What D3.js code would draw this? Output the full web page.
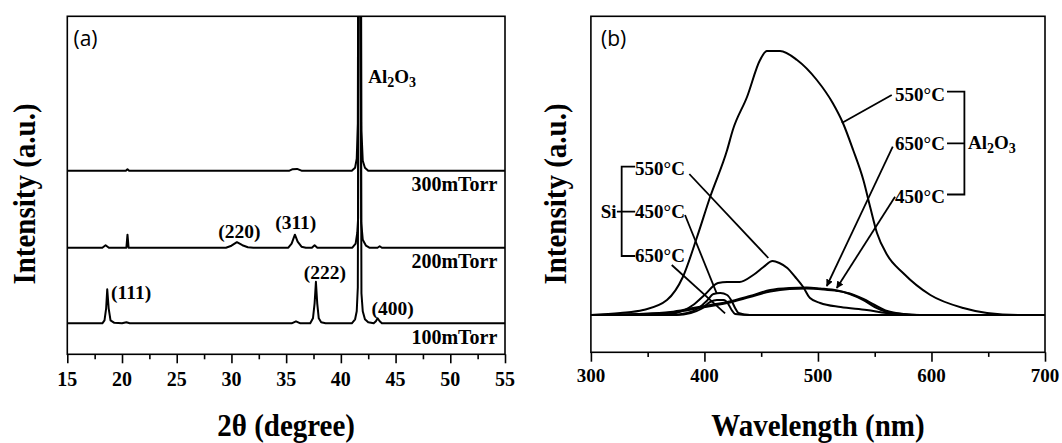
<!DOCTYPE html>
<html>
<head>
<meta charset="utf-8">
<script src="https://cdn.jsdelivr.net/npm/d3@7"></script>
<style>
  body { margin: 0; background: #fff; }
  svg { display: block; }
</style>
</head>
<body>
<svg id="chart" width="1062" height="443"></svg>
<script>
// ---- panel (a): XRD patterns, intensity above each trace's baseline ----
const xrdTicks = [15, 20, 25, 30, 35, 40, 45, 50, 55];
const xrdMinorTicks = [17.5, 22.5, 27.5, 32.5, 37.5, 42.5, 47.5, 52.5];
const xrdNames = ["100mTorr", "200mTorr", "300mTorr"];
const xrdOffsets = [31, 106.6, 183.6];

const xrd100 = [[15,0],[18.2,0],[18.4,3],[18.55,15],[18.65,34],[18.78,15],[18.95,3],[19.3,0.5],[20.0,0],[20.4,1],[20.7,0],
  [35.5,0],[35.9,2],[36.3,0],[37.2,0],[37.45,5],[37.6,20],[37.72,41.6],[37.84,20],[37.98,5],[38.2,1],[38.6,0],
  [41.0,0],[41.3,4],[41.45,12],[41.55,36],[41.63,400],[41.8,400],[41.88,30],[42.0,12],[42.2,4],[42.5,1],[43.0,0],
  [43.2,2],[43.36,5],[43.55,2],[43.75,0],[55,0]];
const xrd200 = [[15,0],[18.2,0],[18.5,2.5],[18.8,0],[20.4,0],[20.5,13],[20.6,0],[29.5,0],[30.0,2],[30.5,5.5],[31.0,2.5],
  [31.5,0.5],[32,0],[35.2,0],[35.5,4],[35.8,13],[36.05,6],[36.4,1],[36.8,0],[37.35,0],[37.6,2.5],[37.85,0],
  [41.05,0],[41.35,4],[41.5,15],[41.58,30],[41.63,400],[41.8,400],[41.86,25],[42.0,8],[42.3,2],[42.6,0],
  [43.35,0],[43.55,1.5],[43.75,0],[55,0]];
const xrd300 = [[15,0],[20.35,0],[20.5,1.5],[20.65,0],[35.3,0],[35.6,1.5],[36.0,1.8],[36.4,0],
  [41.0,0],[41.3,3],[41.45,12],[41.55,47],[41.62,400],[41.8,400],[41.88,40],[42.0,10],[42.2,3],[42.5,0],[55,0]];

const xrdPeakNames = ["(111)", "(222)", "(400)", "(220)", "(311)"];
const xrdPeakAt = [[19.0, 62.5], [36.6, 82.3], [42.8, 46], [28.8, 123.5], [34.0, 132.3]];

// ---- panel (b): PL spectra, intensity above the common baseline ----
const plTicks = [300, 400, 500, 600, 700];
const plMinorTicks = [350, 450, 550, 650];

const alO550 = [[300,0],[326,2],[346,5],[367,15],[381,38],[393.5,78],[405,118],[420,165],[425,185],[437.5,218],
  [449,255],[455,264],[466.6,264],[481.6,255],[499,235],[513,212],[522,192],[531,165],[540,135],[546,108],
  [552,82],[561,60],[575,42],[599,20],[628,7],[649,2],[678,0],[700,0]];
const alO650 = [[300,0],[340,1],[370,3],[390,7],[405,10],[420,13],[440,19],[458,25],[475,27],[490,27.5],
  [502,26.5],[517,24.5],[528,21],[540,15],[550,8],[561,3],[575,1],[590,0],[700,0]];
const alO450 = [[300,0],[350,1],[375,3],[395,7],[420,12],[440,18],[458,23.5],[475,26],[490,26.5],[505,25.5],
  [517,24],[528,21.5],[540,16],[550,10],[561,4],[575,1],[590,0],[700,0]];
const si550 = [[300,0],[360,0],[375,2],[390,10],[400,20],[412,32],[420,33],[431,33],[443,40],[452,48],[460,54],
  [466,52],[473,47],[480,38],[487,28],[493,17],[502,12],[520,8],[543,5],[560,2],[575,0],[700,0]];
const si450 = [[300,0],[370,0],[385,2],[395,7],[402,14],[408,21],[414,22],[420,20],[424,14],[427,7],[430,2],[440,0],[700,0]];
const si650 = [[300,0],[375,0],[388,2],[397,6],[405,13],[411,15],[417,15],[421,11],[424,5],[427,1],[440,0],[700,0]];

const alLabels = ["550°C", "650°C", "450°C"];
const alLabelAt = [[567.9, 221], [567.9, 171.7], [567.9, 119]];
const alLeaders = [[[565, 220], [521, 192]], [[565.9, 168.3], [507.8, 29]], [[567.9, 118.3], [516.6, 27]]];
const siLabels = ["550°C", "450°C", "650°C"];
const siLabelAt = [[338.9, 146.7], [338.9, 103.3], [338.9, 60]];
const siLeaders = [[[386.7, 141], [456.3, 57]], [[382.9, 100], [410.8, 21.7]], [[371.2, 50], [418.2, 1.7]]];

const SERIF = "'Liberation Serif', serif";
const SANS = "'Open Sans', sans-serif";

const svg = d3.select("#chart");
svg.append("rect").attr("width", 1062).attr("height", 443).attr("fill", "#fff");

svg.append("defs").append("marker")
  .attr("id", "arrow")
  .attr("viewBox", "0 0 10 10")
  .attr("refX", 9).attr("refY", 5)
  .attr("markerWidth", 4).attr("markerHeight", 4)
  .attr("orient", "auto")
  .append("path").attr("d", "M0,0 L10,5 L0,10 z").attr("fill", "#000");

function text(x, y, str, size, anchor, family) {
  return svg.append("text")
    .attr("x", x).attr("y", y)
    .attr("dy", "0.35em")
    .attr("text-anchor", anchor || "start")
    .attr("fill", "#000")
    .attr("font-family", family || SERIF)
    .attr("font-weight", family ? "normal" : "bold")
    .attr("font-size", size)
    .text(str);
}

function frame(x, y, id) {
  const [x0, x1] = x.range(), [y0, y1] = y.range();
  svg.append("clipPath").attr("id", id)
    .append("rect").attr("x", x0).attr("y", y1).attr("width", x1 - x0).attr("height", y0 - y1);
  svg.append("rect")
    .attr("x", x0).attr("y", y1).attr("width", x1 - x0).attr("height", y0 - y1)
    .attr("fill", "none").attr("stroke", "#000").attr("stroke-width", 1.6);
}

function bottomAxis(x, y, major, minor, majorLen, minorLen, labelY, fontSize) {
  const y0 = y.range()[0];
  [[minor, minorLen], [major, majorLen]].forEach(([vals, len]) => {
    svg.append("g")
      .attr("transform", `translate(0,${y0})`)
      .call(d3.axisBottom(x).tickValues(vals).tickSize(len).tickFormat(""))
      .call(g => g.select(".domain").remove())
      .call(g => g.selectAll("line").attr("stroke", "#000").attr("stroke-width", 1.6));
  });
  // tick labels drawn as plain texts so the bold serif face sticks
  major.forEach(v => text(x(v), y0 + labelY, String(v), fontSize, "middle"));
}

function formula(x, y, size) {
  const t = svg.append("text")
    .attr("x", x).attr("y", y)
    .attr("font-family", SERIF).attr("font-weight", "bold").attr("font-size", size);
  t.append("tspan").text("Al");
  t.append("tspan").attr("dy", 4).attr("font-size", size - 5).text("2");
  t.append("tspan").attr("dy", -4).text("O");
  t.append("tspan").attr("dy", 4).attr("font-size", size - 5).text("3");
  return t;
}

function title(cx, cy, str, rotate) {
  svg.append("text")
    .attr("transform", `translate(${cx},${cy}) ${rotate ? "rotate(-90)" : ""} scale(1,1.12)`)
    .attr("text-anchor", "middle")
    .attr("font-family", SERIF).attr("font-weight", "bold").attr("font-size", 29)
    .text(str);
}

// ===== panel (a) =====
const xA = d3.scaleLinear().domain([15, 55]).range([67.3, 505]);
const yA = d3.scaleLinear().domain([0, 338]).range([354.3, 16.3]);

frame(xA, yA, "clipA");
bottomAxis(xA, yA, xrdTicks, xrdMinorTicks, 9, 5, 25, 20);

[xrd100, xrd200, xrd300].forEach((trace, i) => {
  const line = d3.line().x(d => xA(d[0])).y(d => yA(d[1] + xrdOffsets[i]));
  svg.append("path")
    .datum(trace)
    .attr("clip-path", "url(#clipA)")
    .attr("fill", "none").attr("stroke", "#000")
    .attr("stroke-width", 2).attr("stroke-linejoin", "round")
    .attr("d", line);
});

xrdNames.forEach((name, i) => {
  text(xA(54.3), yA(xrdOffsets[i] - 13.5), name, 20, "end");
});
xrdPeakNames.forEach((name, i) => {
  text(xA(xrdPeakAt[i][0]), yA(xrdPeakAt[i][1]), name, 19.5, "start");
});

formula(xA(42.5), yA(271.6), 19);

text(73.5, 38.3, "(a)", 21, "start", SANS);

title(xA(35), 436, "2θ (degree)", false);
title(35, 194, "Intensity (a.u.)", true);

// ===== panel (b) =====
const xB = d3.scaleLinear().domain([300, 700]).range([590.9, 1045]);
const yB = d3.scaleLinear().domain([-37.3, 298.7]).range([352.3, 16.3]);

frame(xB, yB, "clipB");
bottomAxis(xB, yB, plTicks, plMinorTicks, 9.4, 4.6, 22.7, 19);

const lineB = d3.line().x(d => xB(d[0])).y(d => yB(d[1])).curve(d3.curveMonotoneX);
[si650, si450, si550, alO450, alO650, alO550].forEach(trace => {
  svg.append("path")
    .datum(trace)
    .attr("clip-path", "url(#clipB)")
    .attr("fill", "none").attr("stroke", "#000")
    .attr("stroke-width", 2).attr("stroke-linejoin", "round")
    .attr("d", lineB);
});

// leader lines
alLeaders.forEach((seg, i) => {
  svg.append("line")
    .attr("x1", xB(seg[0][0])).attr("y1", yB(seg[0][1]))
    .attr("x2", xB(seg[1][0])).attr("y2", yB(seg[1][1]))
    .attr("stroke", "#000").attr("stroke-width", 1.8)
    .attr("marker-end", i > 0 ? "url(#arrow)" : null);
});
siLeaders.forEach(seg => {
  svg.append("line")
    .attr("x1", xB(seg[0][0])).attr("y1", yB(seg[0][1]))
    .attr("x2", xB(seg[1][0])).attr("y2", yB(seg[1][1]))
    .attr("stroke", "#000").attr("stroke-width", 1.8);
});

// labels + brackets
alLabels.forEach((lab, i) => text(xB(alLabelAt[i][0]), yB(alLabelAt[i][1]), lab, 19, "start"));
siLabels.forEach((lab, i) => text(xB(siLabelAt[i][0]), yB(siLabelAt[i][1]), lab, 19, "start"));

const bracketAl = d3.path();
bracketAl.moveTo(xB(613.7), yB(223.3)); bracketAl.lineTo(xB(629), yB(223.3));
bracketAl.lineTo(xB(629), yB(120.5)); bracketAl.lineTo(xB(613.7), yB(120.5));
bracketAl.moveTo(xB(613.7), yB(171.7)); bracketAl.lineTo(xB(629), yB(171.7));
svg.append("path").attr("d", bracketAl.toString())
  .attr("fill", "none").attr("stroke", "#000").attr("stroke-width", 1.8);
formula(xB(632.1), yB(171.7) + 6, 19);

const bracketSi = d3.path();
bracketSi.moveTo(xB(339), yB(148.3)); bracketSi.lineTo(xB(327.1), yB(148.3));
bracketSi.lineTo(xB(327.1), yB(59)); bracketSi.lineTo(xB(339), yB(59));
bracketSi.moveTo(xB(322.9), yB(103.3)); bracketSi.lineTo(xB(339), yB(103.3));
svg.append("path").attr("d", bracketSi.toString())
  .attr("fill", "none").attr("stroke", "#000").attr("stroke-width", 1.8);
text(xB(322.7), yB(103.3), "Si", 19, "end");

text(601, 38.3, "(b)", 21, "start", SANS);

title(xB(500), 436, "Wavelength (nm)", false);
title(566, 194, "Intensity (a.u.)", true);
</script>
</body>
</html>
